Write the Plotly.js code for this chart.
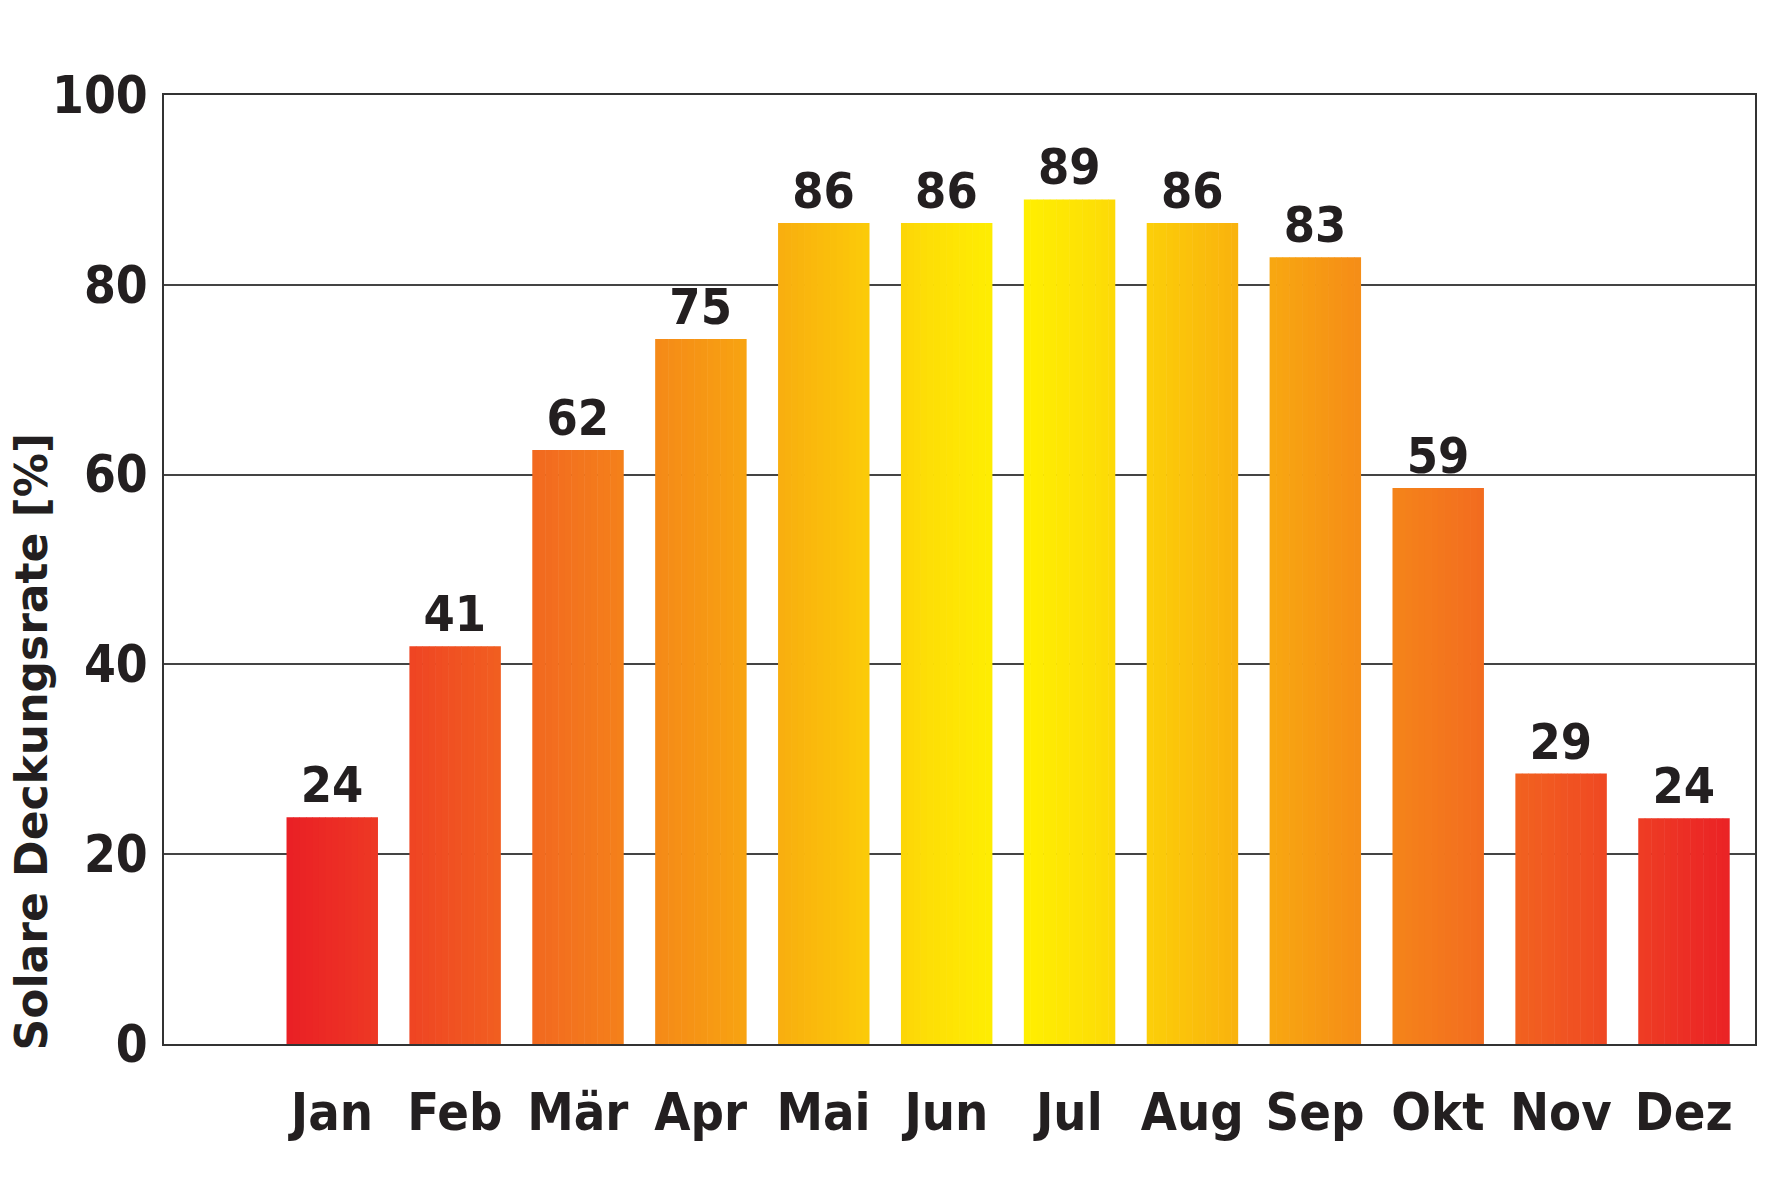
<!DOCTYPE html>
<html>
<head>
<meta charset="utf-8">
<script src="https://cdn.plot.ly/plotly-3.0.1.min.js"></script>
<style>
  html, body { margin: 0; padding: 0; background: #fff; }
  #graph { width: 1779px; height: 1183px; }
</style>
</head>
<body>
<div id="graph"></div>
<script>
// monthly solar coverage in percent
var months = ['Jan', 'Feb', 'Mär', 'Apr', 'Mai', 'Jun', 'Jul', 'Aug', 'Sep', 'Okt', 'Nov', 'Dez'];
// bar heights as drawn in the picture
var deckungsrate = [23.9, 41.9, 62.6, 74.3, 86.5, 86.5, 89.0, 86.5, 82.9, 58.6, 28.5, 23.8];
// values printed above the bars
var labels = ['24', '41', '62', '75', '86', '86', '89', '86', '83', '59', '29', '24'];
var yTicks = [0, 20, 40, 60, 80, 100];

var FONT = '"DejaVu Sans Condensed", "DejaVu Sans", sans-serif';
var BAR_W = 0.74;
var STRIPS = 14;   // each bar is drawn as thin strips to fake the horizontal gradient

// colour ramp: distance from the yellow peak (between Jun and Jul) -> colour
var ramp = [
    [0.0, [255, 242, 0]],
    [0.7, [253, 222, 6]],
    [1.6, [250, 186, 12]],
    [2.6, [246, 148, 21]],
    [3.6, [243, 115, 30]],
    [4.6, [240, 80, 34]],
    [5.5, [236, 45, 37]],
    [6.0, [233, 29, 37]]
];
function rampColor(x){
    var d = Math.abs(x - 5.55);
    if (d >= ramp[ramp.length - 1][0]) d = ramp[ramp.length - 1][0];
    for (var k = 0; k < ramp.length - 1; k++){
        var a = ramp[k], b = ramp[k + 1];
        if (d <= b[0]){
            var t = (d - a[0]) / (b[0] - a[0]);
            var c = a[1].map(function(v, j){ return Math.round(v + (b[1][j] - v) * t); });
            return 'rgb(' + c.join(',') + ')';
        }
    }
}

var traces = [];
var sw = BAR_W / STRIPS;
for (var s = 0; s < STRIPS; s++){
    var off = -BAR_W / 2 + s * sw;
    traces.push({
        type: 'bar',
        x: months,
        y: deckungsrate,
        width: sw * 1.08,
        offset: off,
        marker: {
            color: months.map(function(m, i){ return rampColor(i + off + sw / 2); }),
            line: { width: 0 }
        },
        hoverinfo: 'skip',
        showlegend: false
    });
}
// labels on top
traces.push({
    type: 'bar',
    x: months,
    y: deckungsrate,
    width: BAR_W,
    marker: { color: 'rgba(0,0,0,0)', line: { width: 0 } },
    text: labels,
    textposition: 'outside',
    cliponaxis: false,
    textfont: { family: FONT, size: 50, weight: 'bold', color: '#231f20' },
    showlegend: false
});

var layout = {
    width: 1779,
    height: 1183,
    margin: { l: 164, r: 24, t: 95, b: 139 },
    paper_bgcolor: '#fff',
    plot_bgcolor: '#fff',
    barmode: 'overlay',
    showlegend: false,
    xaxis: {
        type: 'category',
        range: [-1.367, 11.58],
        showgrid: false,
        showline: true,
        mirror: true,
        linecolor: '#333',
        linewidth: 2,
        ticks: '',
        ticklabelstandoff: 22,
        tickfont: { family: FONT, size: 52, weight: 'bold', color: '#231f20' },
        fixedrange: true
    },
    yaxis: {
        range: [0, 100],
        tickvals: yTicks,
        ticktext: yTicks.map(String),
        showgrid: true,
        gridcolor: '#444',
        gridwidth: 2,
        showline: true,
        mirror: true,
        linecolor: '#333',
        linewidth: 2,
        zeroline: false,
        ticks: '',
        ticklabelstandoff: 4,
        tickfont: { family: FONT, size: 51, weight: 'bold', color: '#231f20' },
        fixedrange: true
    },
    annotations: [{
        text: 'Solare Deckungsrate [%]',
        textangle: -90,
        xref: 'paper', yref: 'paper',
        x: -0.083, y: 0,
        xanchor: 'center', yanchor: 'bottom',
        yshift: -8,
        showarrow: false,
        font: { family: '"DejaVu Sans", sans-serif', size: 44, weight: 'bold', color: '#231f20' }
    }]
};

Plotly.newPlot('graph', traces, layout, { displayModeBar: false, staticPlot: true });
</script>
</body>
</html>
